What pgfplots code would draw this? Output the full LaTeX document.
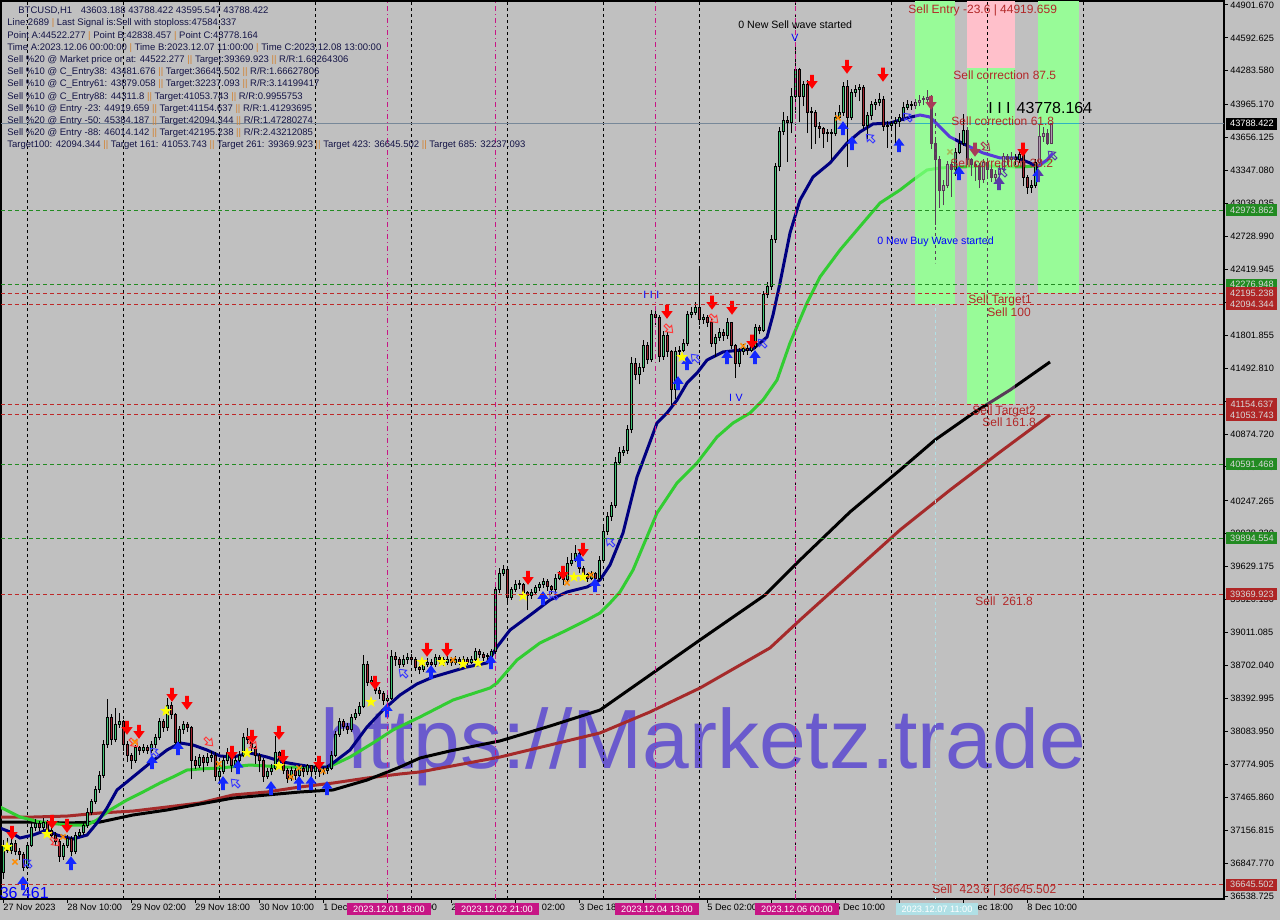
\documentclass[border=0pt]{standalone}
\usepackage{fontspec}
\setmainfont{Liberation Sans}
\usepackage{pgfplots}
\usepackage{pgfplotstable}
\pgfplotsset{compat=1.18}

\definecolor{mtbg}{RGB}{192,192,192}
\definecolor{zgreen}{RGB}{152,251,152}
\definecolor{zpink}{RGB}{255,192,203}
\definecolor{mnavy}{RGB}{0,0,128}
\definecolor{mgreen}{RGB}{50,205,50}
\definecolor{mbrown}{RGB}{165,42,42}
\definecolor{bullc}{RGB}{64,196,116}
\definecolor{bearc}{RGB}{160,36,48}
\definecolor{arred}{RGB}{255,0,0}
\definecolor{arblue}{RGB}{20,40,255}
\definecolor{starc}{RGB}{255,255,0}
\definecolor{crossc}{RGB}{255,140,0}
\definecolor{hred}{RGB}{255,60,60}
\definecolor{hblue}{RGB}{60,60,255}
\definecolor{pricec}{RGB}{119,136,153}
\definecolor{lvlgreen}{RGB}{34,139,34}
\definecolor{lvlred}{RGB}{190,40,40}
\definecolor{boxgreen}{RGB}{34,139,34}
\definecolor{boxred}{RGB}{175,38,38}
\definecolor{boxtext}{RGB}{215,215,215}
\definecolor{txtred}{RGB}{178,40,40}
\definecolor{magc}{RGB}{199,21,133}
\definecolor{ltblue}{RGB}{176,224,230}
\definecolor{wmark}{RGB}{106,90,205}
\definecolor{infotxt}{RGB}{20,20,70}
\definecolor{sepc}{RGB}{210,130,50}
\definecolor{xwick}{RGB}{88,59,88}
\definecolor{xbull}{RGB}{175,155,175}
\definecolor{xbear}{RGB}{110,55,100}
\definecolor{xnavy}{RGB}{88,59,216}
\definecolor{xgreen}{RGB}{106,246,106}
\definecolor{xred}{RGB}{167,59,88}
\definecolor{xblue}{RGB}{88,59,167}
\definecolor{xprice}{RGB}{47,179,193}
\definecolor{xstar}{RGB}{167,196,88}
\definecolor{xcross}{RGB}{167,183,88}

\newcommand\tickfont{\fontsize{4.6}{5}\selectfont}
\newcommand\lvlfont{\fontsize{6}{7}\selectfont}
\newcommand\wavefont{\fontsize{5.3}{6}\selectfont}
\newcommand\sep{{\color{sepc}|}}
\newcommand\dsep{{\color{sepc}||}}

% candle mark: drawn at the close; wick and body offsets come from the row
\pgfdeclareplotmark{candle}{%
  \begingroup
  \pgfkeys{/pgf/fpu=true,/pgf/fpu/output format=fixed}%
  \pgfmathparse{\cdHC*0.053271}\xdef\cwh{\pgfmathresult}%
  \pgfmathparse{\cdLC*0.053271}\xdef\cwl{\pgfmathresult}%
  \pgfmathparse{\cdOC*0.053271}\xdef\cbo{\pgfmathresult}%
  \endgroup
  \ifdim\cbo pt<0.5pt \ifdim\cbo pt>-0.5pt \gdef\cbo{0.5}\fi\fi
  \pgfsetlinewidth{0.5pt}%
  \pgfsetstrokecolor{cwick}%
  \pgfpathmoveto{\pgfpoint{0pt}{\cwl pt}}%
  \pgfpathlineto{\pgfpoint{0pt}{\cwh pt}}%
  \pgfusepathqstroke
  \ifdim\cbo pt<0pt \pgfsetfillcolor{cbull}\else\pgfsetfillcolor{cbear}\fi
  \pgfpathrectanglecorners{\pgfpoint{-0.5pt}{0pt}}{\pgfpoint{0.5pt}{\cbo pt}}%
  \pgfusepathqfillstroke
}
\pgfdeclareplotmark{dnarr}{%
  \pgfpathmoveto{\pgfqpoint{-0.9pt}{3.6pt}}%
  \pgfpathlineto{\pgfqpoint{0.9pt}{3.6pt}}%
  \pgfpathlineto{\pgfqpoint{0.9pt}{0.4pt}}%
  \pgfpathlineto{\pgfqpoint{2.8pt}{0.4pt}}%
  \pgfpathlineto{\pgfqpoint{0pt}{-3.4pt}}%
  \pgfpathlineto{\pgfqpoint{-2.8pt}{0.4pt}}%
  \pgfpathlineto{\pgfqpoint{-0.9pt}{0.4pt}}%
  \pgfpathclose\pgfusepathqfill}
\pgfdeclareplotmark{uparr}{%
  \pgfpathmoveto{\pgfqpoint{-0.9pt}{-3.6pt}}%
  \pgfpathlineto{\pgfqpoint{0.9pt}{-3.6pt}}%
  \pgfpathlineto{\pgfqpoint{0.9pt}{-0.4pt}}%
  \pgfpathlineto{\pgfqpoint{2.8pt}{-0.4pt}}%
  \pgfpathlineto{\pgfqpoint{0pt}{3.4pt}}%
  \pgfpathlineto{\pgfqpoint{-2.8pt}{-0.4pt}}%
  \pgfpathlineto{\pgfqpoint{-0.9pt}{-0.4pt}}%
  \pgfpathclose\pgfusepathqfill}
\pgfdeclareplotmark{hdn}{%
  \pgfpathmoveto{\pgfqpoint{-0.7pt}{2.8pt}}%
  \pgfpathlineto{\pgfqpoint{0.7pt}{2.8pt}}%
  \pgfpathlineto{\pgfqpoint{0.7pt}{0.3pt}}%
  \pgfpathlineto{\pgfqpoint{2.2pt}{0.3pt}}%
  \pgfpathlineto{\pgfqpoint{0pt}{-2.6pt}}%
  \pgfpathlineto{\pgfqpoint{-2.2pt}{0.3pt}}%
  \pgfpathlineto{\pgfqpoint{-0.7pt}{0.3pt}}%
  \pgfpathclose\pgfusepathqstroke}
\pgfdeclareplotmark{fstar}{%
  \pgfpathmoveto{\pgfqpoint{0pt}{3pt}}%
  \pgfpathlineto{\pgfqpoint{-0.705pt}{0.971pt}}%
  \pgfpathlineto{\pgfqpoint{-2.853pt}{0.927pt}}%
  \pgfpathlineto{\pgfqpoint{-1.141pt}{-0.371pt}}%
  \pgfpathlineto{\pgfqpoint{-1.763pt}{-2.427pt}}%
  \pgfpathlineto{\pgfqpoint{0pt}{-1.2pt}}%
  \pgfpathlineto{\pgfqpoint{1.763pt}{-2.427pt}}%
  \pgfpathlineto{\pgfqpoint{1.141pt}{-0.371pt}}%
  \pgfpathlineto{\pgfqpoint{2.853pt}{0.927pt}}%
  \pgfpathlineto{\pgfqpoint{0.705pt}{0.971pt}}%
  \pgfpathclose\pgfusepathqfill}

% ---------------- data ----------------
\pgfplotstableread{
t o h l c
18 36755 37060 36700 37017
19 37017 37080 36940 36970
20 36970 37070 36930 37036
21 37036 37060 36920 36952
22 36952 36990 36880 36924
23 36924 36950 36770 36802
24 36802 37050 36790 37017
25 37017 37230 37000 37177
26 37177 37260 37150 37215
27 37215 37240 37150 37186
28 37186 37270 37160 37233
29 37233 37250 37130 37158
30 37158 37190 37080 37111
31 37111 37140 37010 37046
32 37046 37070 36860 36905
33 36905 37040 36880 37017
34 37017 37110 36990 37083
35 37083 37100 36910 36952
36 36952 37140 36930 37111
37 37111 37170 37090 37139
38 37139 37230 37110 37196
39 37196 37360 37180 37327
40 37327 37450 37300 37421
41 37421 37570 37400 37534
42 37534 37710 37510 37674
43 37674 38000 37650 37956
44 37956 38390 37930 38210
45 38210 38250 37960 38003
46 38003 38300 37980 38153
47 38153 38260 38120 38172
48 38172 38190 37900 37956
49 37956 37990 37800 37853
50 37853 37880 37730 37815
51 37815 37960 37790 37928
52 37928 37950 37860 37909
53 37909 37970 37880 37937
54 37937 37960 37870 37909
55 37909 37990 37880 37956
56 37956 38060 37930 38022
57 38022 38210 38000 38172
58 38172 38200 38080 38116
59 38116 38400 38090 38331
60 38331 38360 38200 38238
61 38238 38260 37940 37975
62 37975 38130 37950 38097
63 38097 38180 38060 38144
64 38144 38170 38080 38116
65 38116 38130 37640 37815
66 37815 37850 37730 37768
67 37768 37870 37740 37834
68 37834 37860 37700 37796
69 37796 37880 37760 37843
70 37843 37900 37800 37862
71 37862 37890 37620 37656
72 37656 37740 37620 37703
73 37703 37850 37680 37815
74 37815 37930 37780 37890
75 37890 37910 37700 37768
76 37768 37850 37740 37815
77 37815 37900 37780 37862
78 37862 38070 37840 38031
79 38031 38120 37970 38003
80 38003 38030 37880 37928
81 37928 37950 37780 37862
82 37862 37880 37700 37815
83 37815 37830 37610 37656
84 37656 37740 37640 37703
85 37703 37780 37670 37740
86 37740 38040 37720 37881
87 37881 37900 37760 37815
88 37815 37840 37680 37721
89 37721 37740 37600 37646
90 37646 37750 37620 37721
91 37721 37740 37630 37674
92 37674 37770 37650 37740
93 37740 37760 37660 37703
94 37703 37780 37670 37759
95 37759 37770 37660 37703
96 37703 37780 37670 37750
97 37750 37770 37660 37703
98 37703 37750 37670 37721
99 37721 37770 37680 37740
100 37740 37900 37720 37862
101 37862 38090 37840 38050
102 38050 38210 38030 38172
103 38172 38200 38090 38125
104 38125 38160 38060 38097
105 38097 38250 38080 38210
106 38210 38290 38190 38247
107 38247 38360 38230 38322
108 38322 38800 38300 38707
109 38707 38740 38510 38547
110 38547 38600 38520 38566
111 38566 38590 38430 38472
112 38472 38500 38390 38435
113 38435 38460 38330 38378
114 38378 38440 38340 38397
115 38397 38850 38380 38791
116 38791 38830 38700 38754
117 38754 38780 38680 38716
118 38716 38800 38690 38754
119 38754 38820 38720 38773
120 38773 38810 38720 38754
121 38754 38780 38650 38688
122 38688 38720 38620 38660
123 38660 38750 38640 38716
124 38716 38770 38690 38735
125 38735 38760 38670 38707
126 38707 38810 38690 38773
127 38773 38800 38720 38754
128 38754 38780 38700 38735
129 38735 38790 38710 38754
130 38754 38780 38700 38726
131 38726 38790 38710 38754
132 38754 38780 38710 38735
133 38735 38790 38710 38763
134 38763 38780 38710 38735
135 38735 38790 38720 38754
136 38754 38870 38730 38838
137 38838 38860 38770 38801
138 38801 38830 38740 38773
139 38773 38820 38750 38782
140 38782 38860 38760 38829
141 38829 39460 38800 39411
142 39411 39620 39380 39570
143 39570 39650 39540 39599
144 39599 39620 39300 39345
145 39345 39440 39320 39411
146 39411 39500 39390 39467
147 39467 39500 39420 39458
148 39458 39480 39340 39383
149 39383 39400 39220 39355
150 39355 39420 39330 39392
151 39392 39460 39370 39430
152 39430 39490 39400 39458
153 39458 39520 39430 39486
154 39486 39510 39400 39439
155 39439 39460 39370 39411
156 39411 39560 39390 39523
157 39523 39590 39500 39552
158 39552 39570 39460 39505
159 39505 39720 39480 39664
160 39664 39760 39640 39692
161 39692 39830 39670 39758
162 39758 39780 39570 39617
163 39617 39640 39510 39552
164 39552 39570 39490 39523
165 39523 39590 39500 39561
166 39561 39580 39490 39523
167 39523 39730 39500 39692
168 39692 40000 39670 39960
169 39960 40140 39930 40100
170 40100 40240 40060 40200
171 40200 40660 40180 40612
172 40612 40750 40580 40706
173 40706 40760 40670 40720
174 40720 40960 40690 40913
175 40913 41600 40880 41541
176 41541 41590 41380 41429
177 41429 41540 41340 41495
178 41495 41760 41460 41710
179 41710 41740 41530 41570
180 41570 42040 41550 41992
181 41992 42080 41900 41964
182 41964 41990 41550 41598
183 41598 41840 41570 41804
184 41804 41830 41600 41645
185 41645 41660 41150 41288
186 41288 41690 41200 41645
187 41645 41700 41620 41663
188 41663 41770 41640 41729
189 41729 42030 41700 41992
190 41992 42070 41960 42020
191 42020 42110 41990 42058
192 42058 42420 41900 41945
193 41945 42000 41910 41964
194 41964 41990 41880 41926
195 41926 41950 41690 41729
196 41729 41810 41600 41776
197 41776 41870 41750 41832
198 41832 41860 41750 41795
199 41795 41960 41770 41917
200 41917 41930 41670 41710
201 41710 41720 41400 41541
202 41541 41680 41500 41645
203 41645 41720 41620 41682
204 41682 41710 41620 41663
205 41663 41730 41640 41692
206 41692 41910 41670 41870
207 41870 41900 41810 41851
208 41851 42220 41830 42180
209 42180 42300 42150 42255
210 42255 42740 42230 42696
211 42696 43420 42670 43381
212 43381 43760 43340 43710
213 43710 43900 43680 43822
214 43822 43860 43430 43794
215 43794 44120 43700 44038
216 44038 44522 43900 44292
217 44292 44310 43800 44038
218 44038 44190 43950 44151
219 44151 44200 43700 43888
220 43888 43940 43550 43897
221 43897 43920 43600 43757
222 43757 43800 43650 43747
223 43747 43760 43560 43700
224 43700 43740 43620 43691
225 43691 43740 43450 43700
226 43700 43900 43670 43850
227 43850 43960 43820 43888
228 43888 44180 43860 44132
229 44132 44200 43380 43850
230 43850 44110 43820 44076
231 44076 44150 44040 44104
232 44104 44160 44000 44123
233 44123 44150 43740 43775
234 43775 43900 43640 43869
235 43869 44000 43820 43963
236 43963 44020 43920 43982
237 43982 44080 43950 44010
238 44010 44050 43720 43757
239 43757 43810 43560 43775
240 43775 43810 43740 43785
241 43785 43850 43600 43804
242 43804 43880 43760 43841
243 43841 43990 43810 43944
244 43944 44010 43920 43972
245 43972 44000 43920 43954
246 43954 44020 43930 43982
247 43982 44060 43950 44001
248 44001 44050 43960 44010
249 44010 44100 43980 44029
250 44029 44060 43550 43606
251 43606 43640 42838 43447
252 43447 43480 43000 43165
253 43165 43260 43020 43212
254 43212 43440 43180 43400
255 43400 43430 43100 43353
256 43353 43560 43300 43513
257 43513 43700 43500 43606
258 43606 43880 43580 43728
259 43728 43760 43400 43447
260 43447 43470 43300 43400
261 43400 43430 43250 43381
262 43381 43420 43180 43259
263 43259 43460 43230 43419
264 43419 43460 43300 43353
265 43353 43380 43240 43287
266 43287 43350 43250 43306
267 43306 43400 43260 43353
268 43353 43510 43330 43475
269 43475 43500 43400 43447
270 43447 43520 43420 43466
271 43466 43500 43400 43447
272 43447 43540 43420 43494
273 43494 43510 43200 43287
274 43287 43310 43130 43184
275 43184 43260 43140 43212
276 43212 43460 43180 43419
277 43419 43778 43400 43663
278 43663 43760 43620 43700
279 43700 43740 43590 43603
280 43603 43788 43596 43788
}\candles

\pgfplotstableread{
t p
17.25 37177
19.75 37140
22.25 37083
25.5 37111
29 37158
31.5 37111
35.5 37074
39 37111
41.5 37224
44 37365
46.5 37534
50.5 37656
54.75 37787
59 37909
62.25 37975
65.5 37956
69 37909
72.25 37853
75.5 37843
79.75 37881
84 37843
88 37796
92.25 37768
95.5 37749
99 37749
100.5 37787
104.75 37909
109 38125
113 38284
117.25 38425
121.5 38529
125.5 38594
129.75 38641
134 38688
139 38726
141.5 38876
144.75 39035
150.5 39195
154.75 39317
159 39392
164 39439
167.25 39505
169.75 39646
173 39946
176.5 40471
179 40725
181.5 40978
184 41072
186.5 41194
189 41353
191.5 41447
194 41569
198 41645
202.25 41663
205.5 41673
209 41785
210.5 41992
212.25 42292
214.75 42762
217.25 43071
220.5 43287
224.75 43419
229 43606
232.25 43710
235.5 43785
239.75 43794
244 43841
247.25 43869
249.75 43850
252.25 43757
254.75 43663
257.25 43616
259.75 43569
263 43513
267.25 43466
271.5 43466
274.75 43419
276.5 43381
279 43447
280.5 43513
}\manavy

\pgfplotstableread{
t p
17.25 37374
22.25 37280
27.25 37233
34 37205
39 37205
41.5 37252
44.75 37346
49 37440
53 37515
57.25 37599
60.5 37656
64 37721
67.25 37731
72.25 37740
79.75 37768
88 37749
94 37749
99 37749
100.5 37768
104.75 37843
110.5 37975
115.5 38097
122.25 38219
130.5 38378
139.75 38491
141.5 38538
146.5 38754
152.25 38914
159 39035
164 39129
167.25 39195
169.75 39289
172.25 39392
175.5 39598
181.5 40134
186.5 40415
191.5 40603
196.5 40847
200.5 40978
204.75 41072
208 41194
211.5 41381
214.75 41729
219 42105
222.25 42349
227.25 42602
231.5 42790
237.25 43043
242.25 43165
245.5 43259
249 43353
252.25 43372
257.25 43381
264 43391
272.25 43381
276.5 43391
280.5 43447
}\magreen

\pgfplotstableread{
t p
17.25 37233
25.5 37233
34 37224
42.25 37233
50.5 37299
59 37346
67.25 37402
75.5 37458
84 37487
92.25 37515
100.5 37534
109 37627
117.25 37749
122.25 37834
129.75 37900
142.25 37994
154.75 38134
167.25 38284
179.75 38613
192.25 38942
208.5 39364
217.25 39692
229.75 40143
242.25 40537
251 40819
261 41082
269.75 41288
279.75 41551
}\mablack

\pgfplotstableread{
t p
17.25 37280
25.5 37280
34 37289
42.25 37318
50.5 37336
59 37374
67.25 37412
75.5 37487
84 37515
92.25 37562
100.5 37599
109 37646
117.25 37684
122.25 37703
142.25 37843
154.75 37956
167.25 38069
179.75 38266
192.25 38491
209.75 38867
217.25 39129
229.75 39552
242.25 39974
254.75 40349
267.25 40706
279.75 41054
}\mabrown

\pgfplotstableread{
t p
20.25 37130
30.25 37233
34 37196
49 38116
52 38078
60.25 38425
64 38350
75.25 37881
80.25 38031
87 38069
88 37843
97 37787
111 38538
124 38848
129 38848
149.25 39523
158 39570
163 39786
184 42020
195.25 42105
200.25 42058
205.25 41739
220.25 44179
229 44320
238 44245
250 43982
261 43541
273 43541
}\redarr

\pgfplotstableread{
t p
23 36661
35 36848
55.25 37796
61.75 37928
73 37600
76.75 37750
85 37553
92 37600
95 37600
99 37553
114 38284
125 38642
140 38735
153 39336
162 39692
166 39458
186.75 41354
189 41541
199 41598
206 41598
228 43747
230.25 43607
242 43588
257 43325
267 43231
276.75 43306
}\bluearr

\pgfplotstableread{
t p
19 36999
29 37121
58.75 38275
79 37881
87 37759
110 38360
122.75 38735
127.75 38735
133 38716
136.75 38726
148 39355
160.75 39533
163 39533
187.75 41598
}\stars

\pgfplotstableread{
t p
21 36858
33 37093
51 37984
72 37778
90 37656
92 37740
98 37712
130.5 38754
159 39477
165 39552
203 41701
226.75 43841
254.75 43522
}\crosses

\pgfplotstableread{
t p
31 37046
50.75 37975
69.5 37984
80.5 37956
184.5 41861
195.75 41955
263.75 43569
}\hollowred

\pgfplotstableread{
t p
24 36848
55.75 37890
76 37600
118 38632
155.5 39364
169.75 39861
191 41588
207.75 41729
234.75 43653
244 43850
267.75 43334
280.25 43494
}\hollowblue

\pgfplotsset{
  mtbase/.style={
    at={(0,0)}, anchor=south west, scale only axis,
    width=611.5pt, height=449pt,
    xmin=17.5, xmax=323.25, ymin=36510.6, ymax=44939.2,
  },
}

\newcommand\drawscene[1]{%
  \pgfplotsinvokeforeach{24,48,72,96,120,144,168,192,216,240,264,288}{%
    \draw[cgrid, line width=0.5pt, dash pattern=on 1.5pt off 1.5pt] (axis cs:##1,36400) -- (axis cs:##1,45000);}%
  \addplot[cprice, line width=0.5pt, forget plot] coordinates {(17.5,43788.422) (323.25,43788.422)};%
  \addplot[only marks, mark=candle, forget plot, #1,
     visualization depends on={\thisrow{h}-\thisrow{c} \as \cdHC},
     visualization depends on={\thisrow{l}-\thisrow{c} \as \cdLC},
     visualization depends on={\thisrow{o}-\thisrow{c} \as \cdOC}]
     table[x=t, y=c] {\candles};%
  \addplot[cbrown, line width=1.5pt, forget plot] table[x=t,y=p] {\mabrown};%
  \addplot[cblack, line width=1.5pt, forget plot] table[x=t,y=p] {\mablack};%
  \addplot[cgreenma, line width=1.5pt, forget plot] table[x=t,y=p] {\magreen};%
  \addplot[cnavy, line width=1.5pt, forget plot] table[x=t,y=p] {\manavy};%
  \addplot[only marks, mark=dnarr, cred, forget plot] table[x=t,y=p] {\redarr};%
  \addplot[only marks, mark=uparr, cblue, forget plot] table[x=t,y=p] {\bluearr};%
  \addplot[only marks, mark=hdn, chred, line width=0.5pt, mark options={rotate=45}, forget plot] table[x=t,y=p] {\hollowred};%
  \addplot[only marks, mark=hdn, chblue, line width=0.5pt, mark options={rotate=225}, forget plot] table[x=t,y=p] {\hollowblue};%
  \addplot[only marks, mark=fstar, cstar, forget plot] table[x=t,y=p] {\stars};%
  \addplot[only marks, mark=x, ccross, mark size=1.8pt, line width=0.7pt, forget plot] table[x=t,y=p] {\crosses};%
}

\begin{document}
\begin{tikzpicture}[x=1pt,y=1pt]
\useasboundingbox (-0.5,-10.5) rectangle (639.5,449.5);
\fill[mtbg] (-0.5,-10.5) rectangle (639.5,449.5);

\colorlet{cgrid}{black}\colorlet{cprice}{pricec}\colorlet{cwick}{black}
\colorlet{cbull}{bullc}\colorlet{cbear}{bearc}\colorlet{cnavy}{mnavy}
\colorlet{cgreenma}{mgreen}\colorlet{cblack}{black}\colorlet{cbrown}{mbrown}
\colorlet{cred}{arred}\colorlet{cblue}{arblue}\colorlet{chred}{hred}
\colorlet{chblue}{hblue}\colorlet{cstar}{starc}\colorlet{ccross}{crossc}

\begin{axis}[mtbase,
  axis line style={black, line width=0.6pt},
  scaled x ticks=false, scaled y ticks=false,
  xtick={18,34,50,66,82,98,114,130,146,162,178,194,210,226,242,258,274},
  xticklabels={27 Nov 2023,28 Nov 10:00,29 Nov 02:00,29 Nov 18:00,30 Nov 10:00,1 Dec 02:00,1 Dec 18:00,2 Dec 10:00,3 Dec 02:00,3 Dec 18:00,,5 Dec 02:00,,6 Dec 10:00,,7 Dec 18:00,8 Dec 10:00},
  ytick={44901.670,44592.625,44283.580,43965.170,43656.125,43347.080,43038.035,42728.990,42419.945,42110.900,41801.855,41492.810,41183.765,40874.720,40565.675,40247.265,39938.220,39629.175,39320.130,39011.085,38702.040,38392.995,38083.950,37774.905,37465.860,37156.815,36847.770,36538.725},
  yticklabels={44901.670,44592.625,44283.580,43965.170,43656.125,43347.080,43038.035,42728.990,42419.945,,41801.855,41492.810,,40874.720,40565.675,40247.265,39938.220,39629.175,39320.130,39011.085,38702.040,38392.995,38083.950,37774.905,37465.860,37156.815,36847.770,36538.725},
  xtick pos=left, ytick pos=right, yticklabel pos=right,
  tick align=outside, major tick length=2pt,
  tick style={black, line width=0.5pt},
  xticklabel style={font=\tickfont, anchor=north west, inner sep=0pt, yshift=-0.5pt},
  yticklabel style={font=\tickfont, anchor=west, inner sep=0pt, xshift=1pt},
]
  \addplot[fill=zpink, draw=none, forget plot] coordinates {(259,44311.8) (271,44311.8) (271,44939.2) (259,44939.2)} --cycle;
  \node[anchor=base west, inner sep=0pt, text=wmark, font=\fontsize{42}{42}\selectfont] at (axis cs:97.25,37740) {https://Marketz.trade};
  \drawscene{}
\end{axis}

\begin{scope}
\clip (457,297.45) rectangle (477,449) (483,247.39) rectangle (507,415.58) (518.5,302.83) rectangle (539,449);
\colorlet{cgrid}{xwick}\colorlet{cprice}{xprice}\colorlet{cwick}{xwick}
\colorlet{cbull}{xbull}\colorlet{cbear}{xbear}\colorlet{cnavy}{xnavy}
\colorlet{cgreenma}{xgreen}\colorlet{cblack}{xwick}\colorlet{cbrown}{xbear}
\colorlet{cred}{xred}\colorlet{cblue}{xblue}\colorlet{chred}{xred}
\colorlet{chblue}{xblue}\colorlet{cstar}{xstar}\colorlet{ccross}{xcross}
\begin{axis}[mtbase, hide axis]
  \addplot[fill=zgreen, draw=none, forget plot] coordinates {(246,42094.344) (256,42094.344) (256,44939.2) (246,44939.2)} --cycle;
  \addplot[fill=zgreen, draw=none, forget plot] coordinates {(259,41154.637) (271,41154.637) (271,44311.8) (259,44311.8)} --cycle;
  \addplot[fill=zgreen, draw=none, forget plot] coordinates {(276.75,42195.238) (287,42195.238) (287,44939.2) (276.75,44939.2)} --cycle;
  \drawscene{restrict x to domain=243:290}
\end{axis}
\end{scope}

\begin{axis}[mtbase, hide axis, clip=false]
  \addplot[lvlgreen, line width=0.5pt, dash pattern=on 2pt off 1.5pt, forget plot] coordinates {(17.5,42973.862) (323.25,42973.862)};
  \addplot[lvlgreen, line width=0.5pt, dash pattern=on 2pt off 1.5pt, forget plot] coordinates {(17.5,42276.948) (323.25,42276.948)};
  \addplot[lvlgreen, line width=0.5pt, dash pattern=on 2pt off 1.5pt, forget plot] coordinates {(17.5,40591.468) (323.25,40591.468)};
  \addplot[lvlgreen, line width=0.5pt, dash pattern=on 2pt off 1.5pt, forget plot] coordinates {(17.5,39894.554) (323.25,39894.554)};
  \addplot[lvlred, line width=0.5pt, dash pattern=on 2pt off 1.5pt, forget plot] coordinates {(17.5,42195.238) (323.25,42195.238)};
  \addplot[lvlred, line width=0.5pt, dash pattern=on 2pt off 1.5pt, forget plot] coordinates {(17.5,42094.344) (323.25,42094.344)};
  \addplot[lvlred, line width=0.5pt, dash pattern=on 2pt off 1.5pt, forget plot] coordinates {(17.5,41154.637) (323.25,41154.637)};
  \addplot[lvlred, line width=0.5pt, dash pattern=on 2pt off 1.5pt, forget plot] coordinates {(17.5,41053.743) (323.25,41053.743)};
  \addplot[lvlred, line width=0.5pt, dash pattern=on 2pt off 1.5pt, forget plot] coordinates {(17.5,39369.923) (323.25,39369.923)};
  \addplot[lvlred, line width=0.5pt, dash pattern=on 2pt off 1.5pt, forget plot] coordinates {(17.5,36645.502) (323.25,36645.502)};
  \pgfplotsinvokeforeach{114,141,181,216}{%
    \draw[magc, line width=0.5pt, dash pattern=on 2.5pt off 1.5pt on 0.5pt off 1.5pt] (axis cs:#1,36510.6) -- (axis cs:#1,44939.2);}
  \draw[ltblue, line width=0.5pt, dash pattern=on 1.5pt off 1.5pt] (axis cs:251,36510.6) -- (axis cs:251,42094.3);
  \draw[xwick, line width=0.5pt, dash pattern=on 1.5pt off 1.5pt] (axis cs:251,43888) -- (axis cs:251,42480);

  \node[anchor=west, inner sep=0pt, text=txtred, font=\lvlfont] at (axis cs:244.25,44855) {Sell Entry -23.6 | 44919.659};
  \node[anchor=west, inner sep=0pt, text=txtred, font=\lvlfont] at (axis cs:255.5,44245) {Sell correction 87.5};
  \node[anchor=west, inner sep=0pt, text=black, font=\fontsize{8}{9}\selectfont] at (axis cs:264.25,43935) {I I I\hspace{3pt}43778.164};
  \node[anchor=west, inner sep=0pt, text=txtred, font=\lvlfont] at (axis cs:255,43813) {Sell correction 61.8};
  \node[anchor=west, inner sep=0pt, text=txtred, font=\lvlfont] at (axis cs:254.75,43419) {Sell correction 38.2};
  \node[anchor=west, inner sep=0pt, text=blue, font=\wavefont] at (axis cs:236.5,42677) {0 New Buy Wave started};
  \node[anchor=west, inner sep=0pt, text=black, font=\wavefont] at (axis cs:201.75,44714) {0 New Sell wave started};
  \node[inner sep=0pt, text=blue, font=\wavefont] at (axis cs:216,44592) {V};
  \node[inner sep=0pt, text=blue, font=\wavefont] at (axis cs:180.1,42180) {I\,\,I\,\,I};
  \node[inner sep=0pt, text=blue, font=\wavefont] at (axis cs:201.25,41213) {I\,\,V};
  \node[anchor=west, inner sep=0pt, text=txtred, font=\lvlfont] at (axis cs:259.25,42133) {Sell Target1};
  \node[anchor=west, inner sep=0pt, text=txtred, font=\lvlfont] at (axis cs:264,42020) {Sell 100};
  \node[anchor=west, inner sep=0pt, text=txtred, font=\lvlfont] at (axis cs:260.25,41091) {Sell Target2};
  \node[anchor=west, inner sep=0pt, text=txtred, font=\lvlfont] at (axis cs:262.75,40988) {Sell 161.8};
  \node[anchor=west, inner sep=0pt, text=txtred, font=\lvlfont] at (axis cs:261,39308) {Sell\hspace{2pt} 261.8};
  \node[anchor=west, inner sep=0pt, text=txtred, font=\lvlfont] at (axis cs:250.25,36595) {Sell\hspace{2pt} 423.6 | 36645.502};
  \node[anchor=west, inner sep=0pt, text=blue, font=\fontsize{8}{9}\selectfont] at (axis cs:17.1,36567) {36 461};

  \node[anchor=north west, inner sep=0pt, align=left, text=infotxt, font=\fontsize{4.75}{6.1}\selectfont, xshift=3pt, yshift=-2.8pt] at (axis cs:17.5,44939.2) {%
   \hspace*{5.5pt}BTCUSD,H1\hspace{3pt} 43603.188 43788.422 43595.547 43788.422\\
   Line:2689 \sep{} Last Signal is:Sell with stoploss:47584.337\\
   Point A:44522.277 \sep{} Point B:42838.457 \sep{} Point C:43778.164\\
   Time A:2023.12.06 00:00:00 \sep{} Time B:2023.12.07 11:00:00 \sep{} Time C:2023.12.08 13:00:00\\
   Sell \%20 @ Market price or at: 44522.277 \dsep{} Target:39369.923 \dsep{} R/R:1.68264306\\
   Sell \%10 @ C\_Entry38: 43481.676 \dsep{} Target:36645.502 \dsep{} R/R:1.66627806\\
   Sell \%10 @ C\_Entry61: 43879.058 \dsep{} Target:32237.093 \dsep{} R/R:3.14199417\\
   Sell \%10 @ C\_Entry88: 44311.8 \dsep{} Target:41053.743 \dsep{} R/R:0.9955753\\
   Sell \%10 @ Entry -23: 44919.659 \dsep{} Target:41154.637 \dsep{} R/R:1.41293695\\
   Sell \%20 @ Entry -50: 45384.187 \dsep{} Target:42094.344 \dsep{} R/R:1.47280274\\
   Sell \%20 @ Entry -88: 46014.142 \dsep{} Target:42195.238 \dsep{} R/R:2.43212085\\
   Target100: 42094.344 \dsep{} Target 161: 41053.743 \dsep{} Target 261: 39369.923 \dsep{} Target 423: 36645.502 \dsep{} Target 685: 32237.093};

  \node[anchor=west, fill=black, text=white, font=\tickfont, minimum width=25.5pt, minimum height=6pt, inner sep=0pt, xshift=1pt] at (axis cs:323.25,43788.422) {43788.422};
  \node[anchor=west, fill=boxgreen, text=boxtext, font=\tickfont, minimum width=25.5pt, minimum height=6pt, inner sep=0pt, xshift=1pt] at (axis cs:323.25,42973.862) {42973.862};
  \node[anchor=west, fill=boxgreen, text=boxtext, font=\tickfont, minimum width=25.5pt, minimum height=6pt, inner sep=0pt, xshift=1pt] at (axis cs:323.25,42276.948) {42276.948};
  \node[anchor=west, fill=boxred, text=boxtext, font=\tickfont, minimum width=25.5pt, minimum height=6pt, inner sep=0pt, xshift=1pt] at (axis cs:323.25,42195.238) {42195.238};
  \node[anchor=west, fill=boxred, text=boxtext, font=\tickfont, minimum width=25.5pt, minimum height=6pt, inner sep=0pt, xshift=1pt] at (axis cs:323.25,42094.344) {42094.344};
  \node[anchor=west, fill=boxred, text=boxtext, font=\tickfont, minimum width=25.5pt, minimum height=6pt, inner sep=0pt, xshift=1pt] at (axis cs:323.25,41154.637) {41154.637};
  \node[anchor=west, fill=boxred, text=boxtext, font=\tickfont, minimum width=25.5pt, minimum height=6pt, inner sep=0pt, xshift=1pt] at (axis cs:323.25,41053.743) {41053.743};
  \node[anchor=west, fill=boxgreen, text=boxtext, font=\tickfont, minimum width=25.5pt, minimum height=6pt, inner sep=0pt, xshift=1pt] at (axis cs:323.25,40591.468) {40591.468};
  \node[anchor=west, fill=boxgreen, text=boxtext, font=\tickfont, minimum width=25.5pt, minimum height=6pt, inner sep=0pt, xshift=1pt] at (axis cs:323.25,39894.554) {39894.554};
  \node[anchor=west, fill=boxred, text=boxtext, font=\tickfont, minimum width=25.5pt, minimum height=6pt, inner sep=0pt, xshift=1pt] at (axis cs:323.25,39369.923) {39369.923};
  \node[anchor=west, fill=boxred, text=boxtext, font=\tickfont, minimum width=25.5pt, minimum height=6pt, inner sep=0pt, xshift=1pt] at (axis cs:323.25,36645.502) {36645.502};

  \node[anchor=north, fill=magc, text=white, font=\tickfont, minimum height=6pt, inner xsep=3pt, inner ysep=0pt, yshift=-2pt, xshift=1pt] at (axis cs:114,36510.6) {2023.12.01 18:00};
  \node[anchor=north, fill=magc, text=white, font=\tickfont, minimum height=6pt, inner xsep=3pt, inner ysep=0pt, yshift=-2pt, xshift=1pt] at (axis cs:141,36510.6) {2023.12.02 21:00};
  \node[anchor=north, fill=magc, text=white, font=\tickfont, minimum height=6pt, inner xsep=3pt, inner ysep=0pt, yshift=-2pt, xshift=1pt] at (axis cs:181,36510.6) {2023.12.04 13:00};
  \node[anchor=north, fill=magc, text=white, font=\tickfont, minimum height=6pt, inner xsep=3pt, inner ysep=0pt, yshift=-2pt, xshift=1pt] at (axis cs:216,36510.6) {2023.12.06 00:00};
  \node[anchor=north, fill=ltblue, text=white, font=\tickfont, minimum height=6pt, inner xsep=3pt, inner ysep=0pt, yshift=-2pt, xshift=1pt] at (axis cs:251,36510.6) {2023.12.07 11:00};
\end{axis}
\end{tikzpicture}
\end{document}
